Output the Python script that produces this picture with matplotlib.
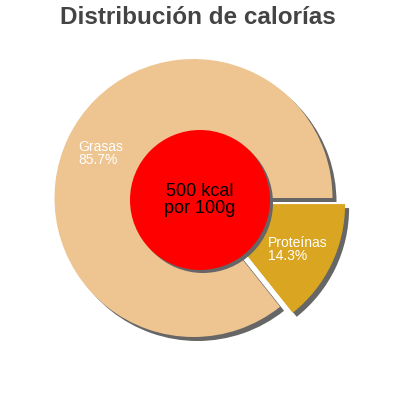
import matplotlib
matplotlib.use('Agg')
from matplotlib import pyplot as plt
from matplotlib.patches import Circle

plt.rcParams['font.family'] = ['Liberation Sans', 'DejaVu Sans']

# data
labels = ['Grasas', 'Proteínas']
values = [85.7, 14.3]
colors = ['#EEC591', '#DAA520']
title = 'Distribución de calorías'
center_text = '500 kcal\npor 100g'

fig = plt.figure(figsize=(4, 4), dpi=100)
ax = fig.add_axes([0, 0, 1, 1])

# work in pixel coords, y up
cx, cy, r = 193.5, 400 - 198, 139
shadow = '#666666'
sh = 4

# explode offset is in data units (pixels here)
explode = [0, 14]

def draw_pie(center, cols, z):
    wedges, _ = ax.pie(values, colors=cols, startangle=0, counterclock=True,
                       radius=r, center=center, explode=explode,
                       wedgeprops=dict(linewidth=0), frame=True)
    for w in wedges:
        w.set_zorder(z)
    return wedges

# shadow first, then the pie
draw_pie((cx + sh, cy - sh), [shadow, shadow], 1)
draw_pie((cx, cy), colors, 2)

# inner red disc with shadow
ax.add_patch(Circle((200 + 3, 200 - 3), 70, color=shadow, zorder=3, lw=0))
ax.add_patch(Circle((200, 200), 70, color='#FF0000', zorder=4, lw=0))
ax.text(200, 200, center_text, ha='center', va='center', fontsize=13,
        color='black', zorder=5, linespacing=1.0)

# slice labels
for lab, val, (x, y) in zip(labels, values, [(78, 140), (268, 236)]):
    ax.text(x, 400 - y, f'{lab}\n{val}%', ha='left', va='top', fontsize=10,
            color='white', zorder=5, linespacing=0.9)

fig.text(198 / 400, 1 - 17 / 400, title, ha='center', va='center',
         fontsize=17.5, fontweight='bold', color='#444444')

ax.set_xlim(0, 400)
ax.set_ylim(0, 400)
ax.set_aspect('auto')
ax.axis('off')

fig.savefig('out.png', dpi=100)
